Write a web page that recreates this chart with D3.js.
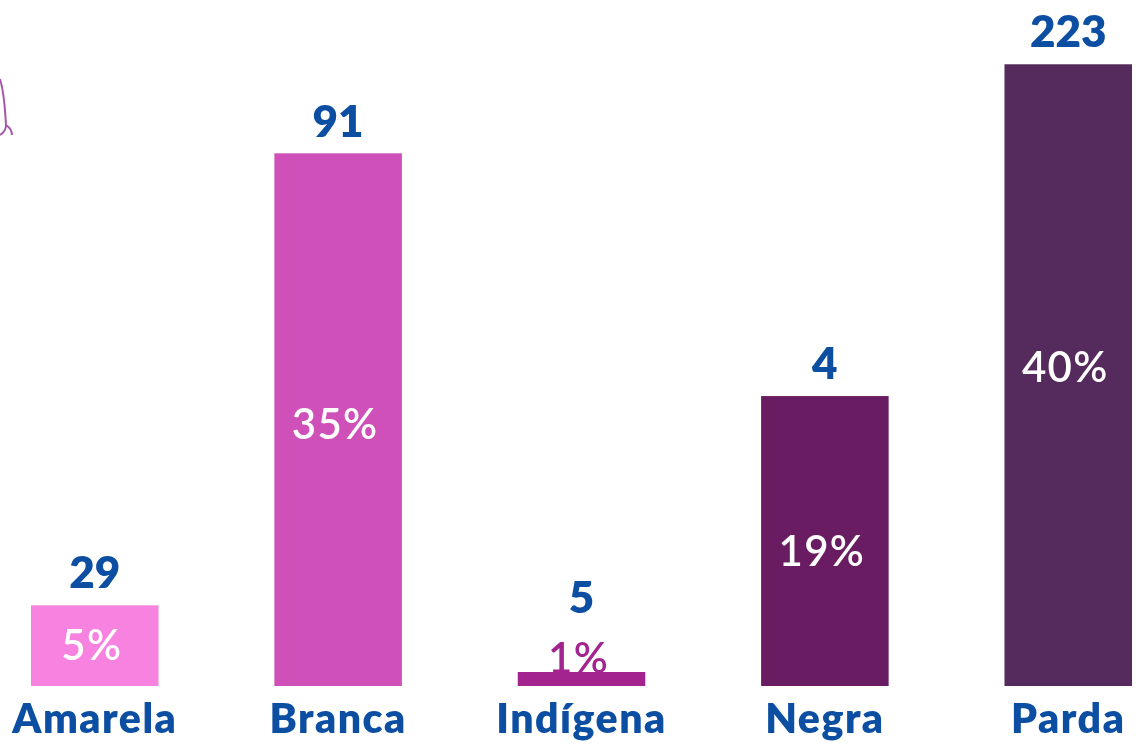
<!DOCTYPE html>
<html><head><meta charset="utf-8">
<script src="https://cdnjs.cloudflare.com/ajax/libs/d3/7.8.5/d3.min.js"></script>
<style>html,body{margin:0;padding:0;background:#fff;overflow:hidden}svg{display:block;filter:blur(0.7px)}text{font-family:Lato,sans-serif}</style>
</head><body><svg id="c" width="1142" height="744"></svg>
<script>
const categories = ["Amarela","Branca","Indígena","Negra","Parda"];
const shares = [5.3,35,0.92,19.05,40.85];
const shareLabels = ["5%","35%","1%","19%","40%"];
const shareLabelLevels = [1.7,16.2,0.85,7.9,20];
const counts = ["29","91","5","4","223"];
const countLabelLevels = [6.42,36.1,4.8,20.15,42];
const colors = ["#F782DF","#CE50B8","#A3248F","#6A1C62","#552A5C"];
const labelColors = ["#fff","#fff","#A3248F","#fff","#fff"];
const blue = "#0B4EA2";

const svg = d3.select("#c");
const x = d3.scaleBand().domain(categories).range([31,1132]).paddingInner(0.476).paddingOuter(0);
const y = d3.scaleLinear().domain([0,41]).range([686,62]);
const rows = categories.map((c,i)=>({c,v:shares[i],s:shareLabels[i],sl:shareLabelLevels[i],n:counts[i],nl:countLabelLevels[i],col:colors[i],lc:labelColors[i]}));
const cx = d=>x(d.c)+x.bandwidth()/2;

// partial decoration cropped at the left edge
svg.append("path").attr("d","M0,79 C5,96 5,112 6,125 C6,129 5,132 0,135 M6,125 C9,127 12,130 12,135")
  .attr("fill","none").attr("stroke","#A658A8").attr("stroke-width",2);

svg.selectAll("text.s").data(rows).join("text").attr("class","s")
  .attr("x",cx).attr("dx",-3).attr("y",d=>y(d.sl)).attr("text-anchor","middle")
  .attr("font-size",42).attr("font-weight",600).attr("letter-spacing",1.3).attr("fill",d=>d.lc).text(d=>d.s);

svg.selectAll("rect.bar").data(rows).join("rect").attr("class","bar")
  .attr("x",d=>x(d.c)).attr("width",x.bandwidth())
  .attr("y",d=>y(d.v)).attr("height",d=>y(0)-y(d.v)).attr("fill",d=>d.col);

// labels inside the bars go above them; the Indígena label stays behind its thin bar
svg.selectAll("text.s").filter(d=>d.c!=="Indígena").raise();

svg.selectAll("text.n").data(rows).join("text").attr("class","n")
  .attr("x",cx).attr("y",d=>y(d.nl)).attr("text-anchor","middle")
  .attr("font-size",44).attr("font-weight",800).attr("fill",blue).text(d=>d.n);

const axis = d3.axisBottom(x).tickSize(0).tickPadding(0);
const g = svg.append("g").attr("transform","translate(0,733)").call(axis);
g.select(".domain").remove();
g.selectAll("text").attr("y",0).attr("dy",0).attr("font-size",41).attr("font-weight",800).attr("letter-spacing",1.5)
  .attr("font-family","Lato,sans-serif").attr("fill",blue);
</script></body></html>
